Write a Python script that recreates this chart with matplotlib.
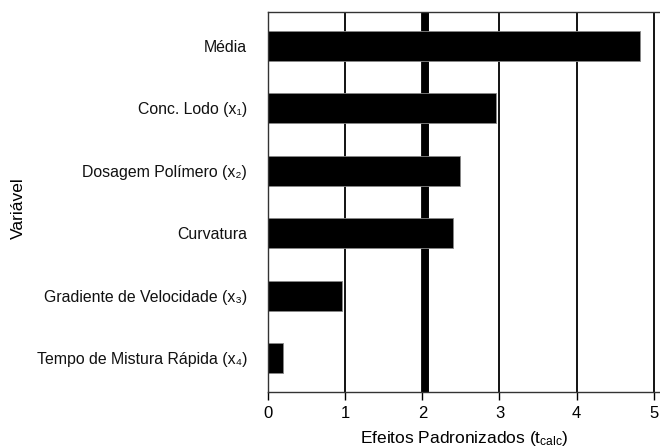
import matplotlib
matplotlib.use("Agg")
import matplotlib.pyplot as plt

plt.rcParams['font.family'] = ['Liberation Sans', 'DejaVu Sans']
plt.rcParams['mathtext.fontset'] = 'custom'
plt.rcParams['mathtext.rm'] = 'Liberation Sans'
plt.rcParams['mathtext.it'] = 'Liberation Sans'

variaveis = ['Média', 'Conc. Lodo (x₁)', 'Dosagem Polímero (x₂)', 'Curvatura',
             'Gradiente de Velocidade (x₃)', 'Tempo de Mistura Rápida (x₄)']
efeitos = [4.82, 2.95, 2.49, 2.40, 0.96, 0.20]
t_critico = 2.03
xticks = [0, 1, 2, 3, 4, 5]

fig = plt.figure(figsize=(6.6, 4.47), dpi=100)
ax = fig.add_axes([268/660, 1 - 392/447, 1 - 268/660, 380/447])

pos = list(range(len(variaveis)))[::-1]
for x in xticks[1:]:
    ax.axvline(x, color='black', lw=1.3, zorder=1)
ax.axvline(t_critico, color='black', lw=5, zorder=1)
ax.barh(pos, efeitos, height=0.48, color='black', edgecolor='#888888', linewidth=0.6, zorder=2)

ax.set_xlim(0, 5.08)
ax.set_ylim(-0.54, 5.54)
ax.set_xticks(xticks)
ax.set_yticks(pos)
ax.set_yticklabels(variaveis, fontsize=11.4, color='#111111')
ax.tick_params(axis='x', labelsize=12, length=6, width=1, direction='out', pad=4)
ax.tick_params(axis='y', length=0, pad=15)
ax.spines['right'].set_visible(False)
for s in ['top', 'left', 'bottom']:
    ax.spines[s].set_color('#333333')
    ax.spines[s].set_linewidth(1)

ax.set_xlabel(r'Efeitos Padronizados (t$_{\mathrm{calc}}$)', fontsize=12.5, labelpad=6)
fig.text(18/660, 1 - 208/447, 'Variável', rotation=90, fontsize=12.5, ha='center', va='center')

fig.savefig('out.png', dpi=100)
